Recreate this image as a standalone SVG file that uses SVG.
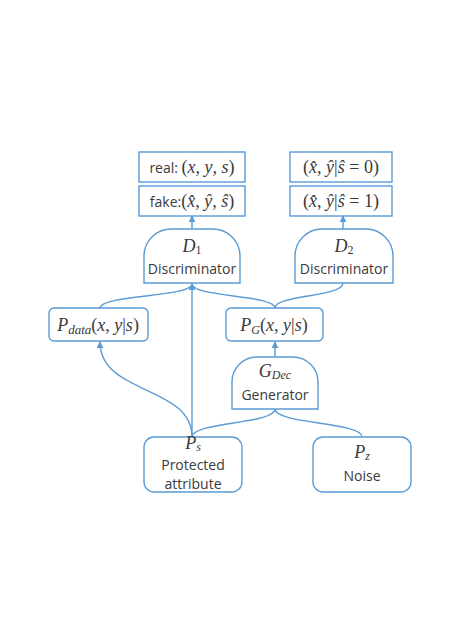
<svg xmlns="http://www.w3.org/2000/svg" width="450" height="634" viewBox="0 0 450 634">
<defs>
<marker id="ah" viewBox="0 0 10 10" refX="9" refY="5" markerWidth="5" markerHeight="5" orient="auto-start-reverse">
<path d="M0,0 L10,5 L0,10 Z" fill="#5B9BD5"/>
</marker>
</defs>
<style>
.box{fill:#fff;stroke:#5B9BD5;stroke-width:1.4}
.c{fill:none;stroke:#5B9BD5;stroke-width:1.4}
.t{font-family:"Open Sans","Liberation Sans",sans-serif;font-size:14px;fill:#3a3a3a;text-anchor:middle}
.m{font-family:"Liberation Serif","DejaVu Serif",serif;font-size:18px;fill:#3a3a3a}
.i{font-style:italic}
</style>
<rect width="450" height="634" fill="#fff"/>
<g id="connectors">
<path class="c" d="M192,229 V216" marker-end="url(#ah)"/>
<path class="c" d="M343,229 V216" marker-end="url(#ah)"/>
<path class="c" d="M100,308 C100,295 192,297 192,284"/>
<path class="c" d="M275,308 C275,295 192,297 192,284"/>
<path class="c" d="M275,308 C275,295 343,297 343,283"/>
<path class="c" d="M192,437 V284" marker-end="url(#ah)"/>
<path class="c" d="M192,437 C192,385 100,395 100,342" marker-end="url(#ah)"/>
<path class="c" d="M275,357 V342" marker-end="url(#ah)"/>
<path class="c" d="M192,437 C192,422 275,424 275,409"/>
<path class="c" d="M362,437 C362,422 275,424 275,409"/>
</g>
<g id="real">
<rect class="box" x="139" y="152" width="106" height="30"/>
<text class="t" x="192" y="173"><tspan>real: </tspan><tspan class="m">(<tspan class="i">x</tspan>, <tspan class="i">y</tspan>, <tspan class="i">s</tspan>)</tspan></text>
</g>
<g id="fake">
<rect class="box" x="139" y="186" width="106" height="30"/>
<text class="t" x="192" y="207"><tspan>fake:</tspan><tspan class="m">(<tspan class="i">x̂</tspan>, <tspan class="i">ŷ</tspan>, <tspan class="i">ŝ</tspan>)</tspan></text>
</g>
<g id="s0">
<rect class="box" x="290" y="152" width="102" height="30"/>
<text class="t m" x="341" y="173" text-anchor="middle">(<tspan class="i">x̂</tspan>, <tspan class="i">ŷ</tspan>|<tspan class="i">ŝ</tspan> = 0)</text>
</g>
<g id="s1">
<rect class="box" x="290" y="186" width="102" height="30"/>
<text class="t m" x="341" y="207" text-anchor="middle">(<tspan class="i">x̂</tspan>, <tspan class="i">ŷ</tspan>|<tspan class="i">ŝ</tspan> = 1)</text>
</g>
<g id="D1">
<path class="box" d="M144,283 V256 A27,27 0 0 1 171,229 H213 A27,27 0 0 1 240,256 V283 Z"/>
<text class="t m" x="192" y="252" text-anchor="middle"><tspan class="i">D</tspan><tspan font-size="12" dy="2">1</tspan></text>
<text class="t" x="192" y="274">Discriminator</text>
</g>
<g id="D2">
<path class="box" d="M295,283 V256 A27,27 0 0 1 322,229 H366 A27,27 0 0 1 393,256 V283 Z"/>
<text class="t m" x="344" y="252" text-anchor="middle"><tspan class="i">D</tspan><tspan font-size="12" dy="2">2</tspan></text>
<text class="t" x="344" y="274">Discriminator</text>
</g>
<g id="Pdata">
<rect class="box" x="49" y="308" width="99" height="33" rx="5"/>
<text class="t m" x="98" y="331" text-anchor="middle"><tspan class="i">P</tspan><tspan class="i" font-size="13" dy="3">data</tspan><tspan dy="-3">(</tspan><tspan class="i">x</tspan>, <tspan class="i">y</tspan>|<tspan class="i">s</tspan>)</text>
</g>
<g id="PG">
<rect class="box" x="226" y="308" width="97" height="33" rx="5"/>
<text class="t m" x="274" y="331" text-anchor="middle"><tspan class="i">P</tspan><tspan class="i" font-size="12" dy="3">G</tspan><tspan dy="-3">(</tspan><tspan class="i">x</tspan>, <tspan class="i">y</tspan>|<tspan class="i">s</tspan>)</text>
</g>
<g id="Gen">
<path class="box" d="M232,409 V382 A25,25 0 0 1 257,357 H293 A25,25 0 0 1 318,382 V409 Z"/>
<text class="t m" x="275" y="377" text-anchor="middle"><tspan class="i">G</tspan><tspan class="i" font-size="12" dy="2">Dec</tspan></text>
<text class="t" x="275" y="400">Generator</text>
</g>
<g id="Ps">
<rect class="box" x="144" y="437" width="98" height="55" rx="10"/>
<text class="t m" x="193" y="449" text-anchor="middle"><tspan class="i">P</tspan><tspan class="i" font-size="12" dy="2">s</tspan></text>
<text class="t" x="193" y="470">Protected</text>
<text class="t" x="193" y="489">attribute</text>
</g>
<g id="Pz">
<rect class="box" x="313" y="437" width="98" height="55" rx="10"/>
<text class="t m" x="362" y="458" text-anchor="middle"><tspan class="i">P</tspan><tspan class="i" font-size="12" dy="2">z</tspan></text>
<text class="t" x="362" y="481">Noise</text>
</g>
</svg>
